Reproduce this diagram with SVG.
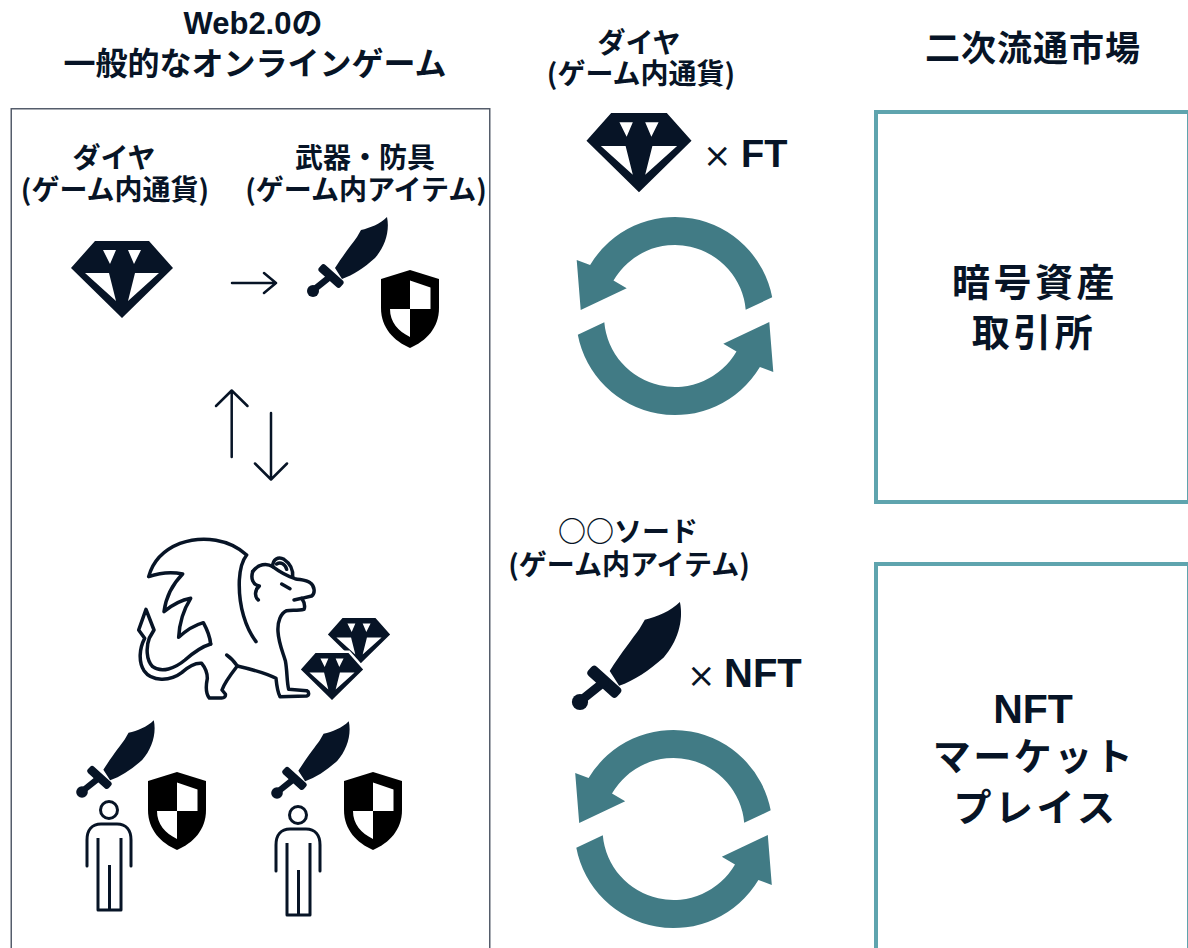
<svg xmlns="http://www.w3.org/2000/svg" xmlns:xlink="http://www.w3.org/1999/xlink" width="1188" height="948" viewBox="0 0 1188 948">
  <style>
    .lbl { font-family: "Liberation Sans", "Noto Sans CJK JP", sans-serif; font-weight: 700; fill: #071426; text-anchor: middle; }
    .cjk { font-family: "Noto Sans CJK JP", "Liberation Sans", sans-serif; font-weight: 700; fill: #071426; text-anchor: middle; }
    .sub { font-size: 28px; }
    .mark { font-family: "Liberation Sans", sans-serif; fill: #071426; }
    .times { font-family: "DejaVu Sans", sans-serif; font-weight: 400; }
    .ink { fill: #071426; }
    .frame { fill: none; stroke: #555d6b; stroke-width: 1.5; }
    .market { fill: #ffffff; stroke: #5fa4ae; stroke-width: 4; }
    .cycle { fill: #417b85; }
    .line-art { fill: #ffffff; stroke: #071426; stroke-linejoin: round; stroke-linecap: round; }
    .arrow { fill: none; stroke: #071426; stroke-width: 2.5; stroke-linecap: round; stroke-linejoin: round; }
  </style>
  <defs>
    <!-- cut gem: outline with four facet holes -->
    <path id="gem" fill-rule="evenodd" d="M-27,0 L27,0 L51,27 L0,77 L-51,27 Z M-19,9 L-6,9 L-12,23 Z M6,9 L19,9 L12,23 Z M-37,32 L-13,32 L-6,60 Z M13,32 L37,32 L6,60 Z"/>
    <!-- scimitar, origin at the pommel -->
    <g id="sword" class="ink">
      <path d="M22,-23 C31,-37 39,-47 44,-54 L48,-61 C57,-63 67,-67 74,-74 C77,-60 72,-44 62,-33 C51,-23 40,-16 29,-12 Z"/>
      <rect x="-14.5" y="-4.5" width="29" height="9" rx="3" transform="translate(18,-15) rotate(42)"/>
      <path d="M18,-15 L3,-3" fill="none" stroke="#071426" stroke-width="6.5" stroke-linecap="round"/>
      <circle cx="0" cy="0" r="6"/>
    </g>
    <!-- quartered shield, origin at the top point -->
    <g id="shield">
      <path fill="#000000" d="M0,0 L29,9 L29,38 C29,58 16,71 0,78 C-16,71 -29,58 -29,38 L-29,9 Z"/>
      <path fill="#ffffff" d="M0,10.5 L20.5,17.5 L20.5,39 L0,39 Z M-20,39 L0,39 L0,67 C-12,61 -20,52 -20,39 Z"/>
    </g>
    <!-- standing figure, origin at the head centre -->
    <g id="person" fill="none" stroke="#071426" stroke-width="3" stroke-linecap="round" stroke-linejoin="round">
      <circle cx="0" cy="0" r="8.5"/>
      <path d="M-22,56 L-22,30 C-22,20 -17,14 -8,14 L8,14 C17,14 22,20 22,30 L22,56"/>
      <path d="M-11,28 L-11,100 L12,100 L12,28" stroke-linecap="butt"/>
      <path d="M0.5,55 L0.5,100" stroke-linecap="butt"/>
    </g>
    <!-- one half of the exchange cycle -->
    <path id="half-cycle" d="M772.2,297.3 A99,99 0 0 0 590.1,265 L576.7,260 L580.7,310 L626.7,288.3 L613.5,280.5 A71,71 0 0 1 745.7,309.8 Z"/>
    <g id="cycle">
      <use xlink:href="#half-cycle"/>
      <use xlink:href="#half-cycle" transform="rotate(180 675 316)"/>
    </g>
  </defs>

  <rect width="1188" height="948" fill="#ffffff"/>

  <!-- left panel: a conventional online game -->
  <g id="web2-game">
    <text class="lbl" y="34"><tspan x="253" font-size="31">Web2.0の</tspan><tspan class="cjk" x="255" y="75" font-size="32">一般的なオンラインゲーム</tspan></text>
    <rect class="frame" x="11.25" y="108.75" width="478.5" height="842"/>
  </g>

  <g id="currency-gem">
    <text class="cjk sub" y="168"><tspan x="114">ダイヤ</tspan><tspan x="115" y="200">(ゲーム内通貨)</tspan></text>
    <use xlink:href="#gem" class="ink" transform="translate(122 241)"/>
  </g>

  <g id="gear">
    <text class="cjk sub" y="168"><tspan x="365">武器・防具</tspan><tspan x="366" y="200">(ゲーム内アイテム)</tspan></text>
    <use xlink:href="#sword" transform="translate(313 291)"/>
    <use xlink:href="#shield" transform="translate(410 270)"/>
  </g>

  <g id="dragon">
    <g class="line-art" stroke-width="10.5" transform="translate(120 380) scale(0.33333)">
      <path d="M408,785 C378,745 355,680 358,600 C360,565 368,540 380,525 C330,478 250,465 180,490 C130,510 98,545 86,590 C120,578 155,575 188,582 C160,610 138,650 132,695 C160,672 185,660 212,655 C190,690 178,730 176,772 C200,750 225,735 250,728 C262,750 270,770 272,792"/>
      <path d="M398,575 C415,552 440,548 458,560 C478,575 500,588 525,596 C545,600 560,600 570,608 C585,618 586,640 575,648 L545,655 C552,665 556,678 552,688 C535,692 515,690 500,692 C482,700 472,725 474,755 C476,790 488,815 496,842 C502,872 500,905 506,928 L560,932 C568,936 568,946 560,948 L480,950 C472,935 470,915 468,895 C440,880 395,868 352,858 C335,880 315,905 306,930 L316,942 C318,950 312,954 305,954 L268,954 C256,940 258,915 262,895 C262,875 255,862 245,850 C225,848 205,860 185,878 C150,905 95,905 72,872 C55,845 58,805 74,775 L56,750 L78,688 L102,750 L88,774 C78,800 78,840 98,860 C125,880 165,865 195,840 C220,818 245,800 272,792" fill="none"/>
      <path d="M320,825 C335,835 345,848 352,858" fill="none"/>
      <path d="M458,560 C458,538 475,528 492,538 C510,550 520,570 518,592" fill="none"/>
      <path d="M470,552 C482,545 496,552 500,568" fill="none"/>
      <path d="M398,575 C392,595 398,615 418,618 C405,628 402,650 415,660" fill="none"/>
      <path d="M485,612 L510,626" fill="none"/>
      <path d="M545,655 L522,660" fill="none"/>
    </g>
    <use xlink:href="#gem" class="ink" transform="translate(359 618) scale(0.61)"/>
    <use xlink:href="#gem" class="ink" stroke="#ffffff" stroke-width="8" paint-order="stroke" transform="translate(332 653) scale(0.61)"/>
  </g>

  <g id="player-1">
    <use xlink:href="#sword" transform="translate(82 792) scale(0.97)"/>
    <use xlink:href="#person" transform="translate(109 810)"/>
    <use xlink:href="#shield" transform="translate(177 772)"/>
  </g>

  <g id="player-2">
    <use xlink:href="#sword" transform="translate(277 793) scale(0.97)"/>
    <use xlink:href="#person" transform="translate(298 815)"/>
    <use xlink:href="#shield" transform="translate(373 772)"/>
  </g>

  <!-- centre column: tokens -->
  <g id="ft-token">
    <text class="cjk sub" y="53"><tspan x="639">ダイヤ</tspan><tspan x="641" y="84">(ゲーム内通貨)</tspan></text>
    <use xlink:href="#gem" class="ink" transform="translate(639 113) scale(1.03)"/>
    <text class="mark" y="167" font-size="38"><tspan class="times" x="703" font-size="34">×</tspan><tspan x="741" font-weight="700">FT</tspan></text>
  </g>

  <g id="nft-token">
    <text class="cjk sub" y="542"><tspan x="628">○○ソード</tspan><tspan x="629" y="575">(ゲーム内アイテム)</tspan></text>
    <use xlink:href="#sword" transform="translate(580 702) scale(1.35)"/>
    <text class="mark" y="687" font-size="40"><tspan class="times" x="687" font-size="34">×</tspan><tspan x="724" font-weight="700">NFT</tspan></text>
  </g>

  <g id="ft-cycle" class="cycle">
    <use xlink:href="#cycle"/>
  </g>
  <g id="nft-cycle" class="cycle">
    <use xlink:href="#cycle" transform="translate(-1.5 513)"/>
  </g>

  <!-- right column: secondary markets -->
  <text class="cjk" x="1033" y="61" font-size="35" letter-spacing="1">二次流通市場</text>

  <g id="crypto-exchange">
    <rect class="market" x="876" y="112" width="313" height="390"/>
    <text class="cjk" y="296" font-size="38" letter-spacing="3.5"><tspan x="1035">暗号資産</tspan><tspan x="1034" y="346">取引所</tspan></text>
  </g>

  <g id="nft-marketplace">
    <rect class="market" x="876" y="564" width="313" height="400"/>
    <text class="cjk" y="723" font-size="38"><tspan class="lbl" x="1033" font-size="41">NFT</tspan><tspan x="1034" y="770" letter-spacing="2.5">マーケット</tspan><tspan x="1036" y="821" letter-spacing="3.5">プレイス</tspan></text>
  </g>

  <g id="connectors" class="arrow">
    <path d="M232,283 L276,283 M264,273 L276,283 L264,293"/>
    <path d="M231.7,457 L231.7,391 M216,406 L231.7,390.5 L247.5,406"/>
    <path d="M271,413 L271,479 M255,463.5 L271,479.5 L287,463.5"/>
  </g>
</svg>
